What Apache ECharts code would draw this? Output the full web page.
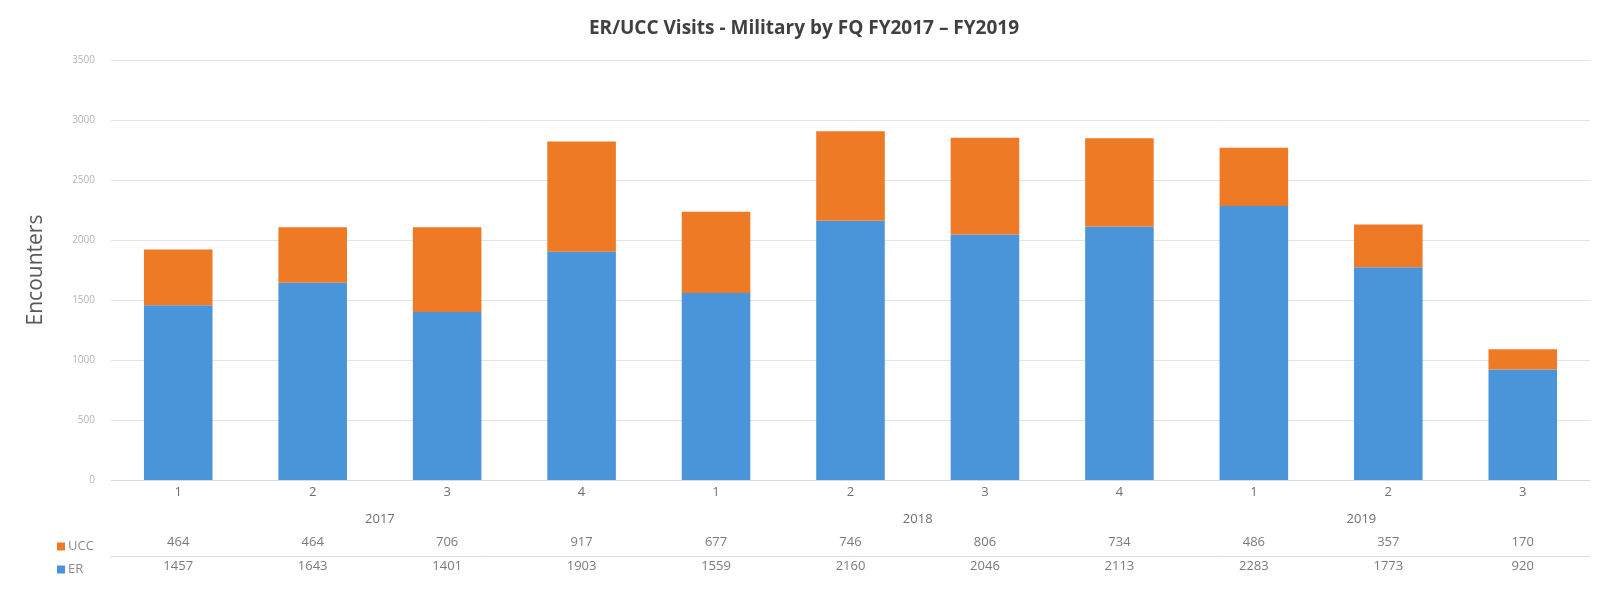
<!DOCTYPE html>
<html>
<head>
<meta charset="utf-8">
<script src="https://cdn.jsdelivr.net/npm/echarts@6/dist/echarts.min.js"></script>
<style>
  html, body { margin: 0; padding: 0; background: #fff; }
  #chart { width: 1608px; height: 591px; }
</style>
</head>
<body>
<div id="chart"></div>
<script>
// quarters, years and values
const quarters = ['1', '2', '3', '4', '1', '2', '3', '4', '1', '2', '3']
const years = ['2017', '2018', '2019']
const yearPos = [1.5, 5.5, 8.8]   // where each year label sits on the quarter scale
const ucc = [464, 464, 706, 917, 677, 746, 806, 734, 486, 357, 170]
const er = [1457, 1643, 1401, 1903, 1559, 2160, 2046, 2113, 2283, 1773, 920]
const yTicks = [0, 500, 1000, 1500, 2000, 2500, 3000, 3500]

const blue = '#4a94da'
const orange = '#ee7a26'
const textGray = '#6f6f6f'

var myChart = echarts.init(document.getElementById('chart'))

var option = {
  animation: false,
  title: {
    text: 'ER/UCC Visits - Military by FQ FY2017 \u2013 FY2019',
    left: 'center',
    top: 14,
    textStyle: {
      fontFamily: 'Open Sans',
      fontSize: 19,
      fontWeight: 'bold',
      color: '#404040'
    }
  },
  legend: {
    orient: 'vertical',
    left: 52,
    top: 535,
    itemWidth: 8,
    itemHeight: 8,
    itemGap: 10,
    icon: 'rect',
    data: ['UCC', 'ER'],
    textStyle: { fontFamily: 'Open Sans', fontSize: 13, color: '#8a8a8a', padding: [0, 0, 0, -2] }
  },
  grid: { left: 111, right: 18, top: 60, bottom: 111 },
  yAxis: {
    type: 'value',
    min: yTicks[0],
    max: yTicks[yTicks.length - 1],
    interval: 500,
    name: 'Encounters',
    nameLocation: 'middle',
    nameGap: 64,
    nameTextStyle: { fontFamily: 'Open Sans', fontSize: 21, color: '#595959' },
    axisLine: { show: false },
    axisTick: { show: false },
    axisLabel: {
      fontFamily: 'Open Sans', fontSize: 10, color: '#b5b5b5', margin: 16,
      formatter: function (v) { return String(v) }
    },
    splitLine: { lineStyle: { color: '#e3e3e3', width: 1 } }
  },
  xAxis: [
    {
      type: 'category',
      data: quarters,
      axisLine: { lineStyle: { color: '#d9d9d9' } },
      axisTick: { show: false },
      axisLabel: { fontFamily: 'Open Sans', fontSize: 13, color: textGray, margin: 6 }
    },
    {
      type: 'value',
      min: -0.5,
      max: 10.5,
      position: 'bottom',
      offset: 30,
      axisLine: { show: false },
      axisTick: { show: false },
      splitLine: { show: false },
      axisLabel: {
        customValues: yearPos,
        fontFamily: 'Open Sans', fontSize: 13, color: textGray, margin: 3,
        formatter: function (v) {
          let i = yearPos.indexOf(v)
          return i >= 0 ? years[i] : ''
        }
      }
    },
    {
      type: 'category',
      data: ucc.map(String),
      position: 'bottom',
      offset: 50,
      axisLine: { show: false },
      axisTick: { show: false },
      axisLabel: { fontFamily: 'Open Sans', fontSize: 13, color: '#7a7a7a', margin: 6 }
    },
    {
      type: 'category',
      data: er.map(String),
      position: 'bottom',
      offset: 76,
      axisLine: { show: true, lineStyle: { color: '#dcdcdc' } },
      axisTick: { show: false },
      axisLabel: { fontFamily: 'Open Sans', fontSize: 13, color: '#7a7a7a', margin: 4 }
    }
  ],
  series: [
    {
      name: 'ER',
      type: 'bar',
      stack: 'visits',
      xAxisIndex: 0,
      barWidth: '51%',
      itemStyle: { color: blue },
      data: er
    },
    {
      name: 'UCC',
      type: 'bar',
      stack: 'visits',
      xAxisIndex: 0,
      barWidth: '51%',
      itemStyle: { color: orange },
      data: ucc
    }
  ]
}

myChart.setOption(option)
</script>
</body>
</html>
